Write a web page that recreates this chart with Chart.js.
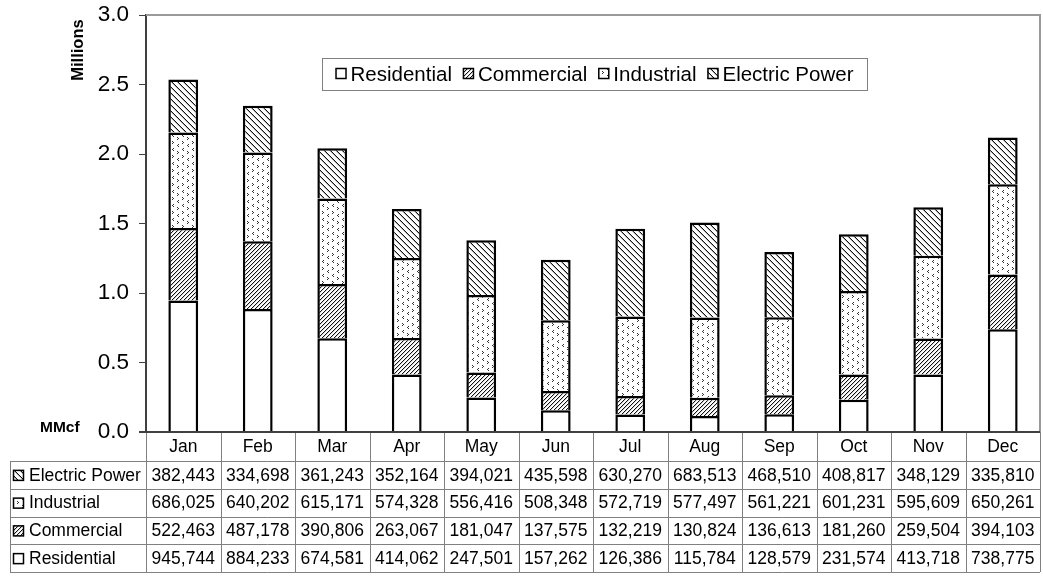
<!DOCTYPE html>
<html>
<head>
<meta charset="utf-8">
<title>Monthly Natural Gas Consumption by Sector</title>
<script src="https://cdn.jsdelivr.net/npm/chart.js@4.4.1/dist/chart.umd.min.js"></script>
<style>
  html, body { margin: 0; padding: 0; background: #fff; }
  canvas { display: block; }
</style>
</head>
<body>
<canvas id="c" width="1043" height="576"></canvas>
<script>
// Monthly consumption by sector, MMcf
const months = ['Jan', 'Feb', 'Mar', 'Apr', 'May', 'Jun', 'Jul', 'Aug', 'Sep', 'Oct', 'Nov', 'Dec'];
const residential = [945744, 884233, 674581, 414062, 247501, 157262, 126386, 115784, 128579, 231574, 413718, 738775];
const commercial = [522463, 487178, 390806, 263067, 181047, 137575, 132219, 130824, 136613, 181260, 259504, 394103];
const industrial = [686025, 640202, 615171, 574328, 556416, 508348, 572719, 577497, 561221, 601231, 595609, 650261];
const electricPower = [382443, 334698, 361243, 352164, 394021, 435598, 630270, 683513, 468510, 408817, 348129, 335810];
const seriesNames = ['Residential', 'Commercial', 'Industrial', 'Electric Power'];
const yTicks = ['0.0', '0.5', '1.0', '1.5', '2.0', '2.5', '3.0'];

const FONT = '"Liberation Sans", Arial, Helvetica, sans-serif';

// ---- fill patterns (black & white hatching) ----
function tile(w, h, draw) {
  const c = document.createElement('canvas');
  c.width = w; c.height = h;
  const g = c.getContext('2d');
  g.fillStyle = '#fff';
  g.fillRect(0, 0, w, h);
  draw(g);
  return c;
}
const ctxMain = document.getElementById('c').getContext('2d');

// dense forward diagonal
const commercialTile = tile(4, 4, g => {
  for (let x = 0; x < 4; x++) {
    g.fillStyle = '#111'; g.fillRect(x, 3 - x, 1, 1);
    g.fillStyle = '#d0d0d0'; g.fillRect(x, (4 - x) % 4, 1, 1);
  }
});
// wider backward diagonal
const electricTile = tile(6, 6, g => {
  for (let x = 0; x < 6; x++) {
    g.fillStyle = '#111'; g.fillRect(x, x, 1, 1);
    g.fillStyle = '#b0b0b0'; g.fillRect(x, (x + 1) % 6, 1, 1);
  }
});
// scattered small chevrons
const industrialTile = tile(10, 14, g => {
  g.fillStyle = '#333';
  const gt = (x, y) => { g.fillRect(x, y, 1, 1); g.fillRect(x + 1, y + 1, 1, 1); g.fillRect(x, y + 2, 1, 1); };
  const lt = (x, y) => { g.fillRect(x + 1, y, 1, 1); g.fillRect(x, y + 1, 1, 1); g.fillRect(x + 1, y + 2, 1, 1); };
  gt(2, 1); lt(2, 8);
  lt(7, 4); gt(7, 11);
});

const fills = {
  'Residential': '#ffffff',
  'Commercial': ctxMain.createPattern(commercialTile, 'repeat'),
  'Industrial': ctxMain.createPattern(industrialTile, 'repeat'),
  'Electric Power': ctxMain.createPattern(electricTile, 'repeat')
};
const seriesValues = {
  'Residential': residential,
  'Commercial': commercial,
  'Industrial': industrial,
  'Electric Power': electricPower
};

function swatch(ctx, name, x, y, s) {
  ctx.save();
  ctx.fillStyle = fills[name];
  ctx.fillRect(x, y, s, s);
  ctx.strokeStyle = '#000';
  ctx.lineWidth = 1.5;
  ctx.strokeRect(x + 0.5, y + 0.5, s - 1, s - 1);
  ctx.restore();
}

// ---- frame, legend, axis captions and data table ----
const decorations = {
  id: 'decorations',
  afterDraw(chart) {
    const ctx = chart.ctx;
    const a = chart.chartArea;
    const xs = chart.scales.x;
    const colW = (a.right - a.left) / months.length;

    ctx.save();
    // top and right frame
    ctx.strokeStyle = '#9a9a9a';
    ctx.lineWidth = 2;
    ctx.beginPath();
    ctx.moveTo(a.left, a.top);
    ctx.lineTo(a.right, a.top);
    ctx.lineTo(a.right, a.bottom);
    ctx.stroke();

    // legend box
    ctx.font = '20.5px ' + FONT;
    ctx.textBaseline = 'middle';
    ctx.textAlign = 'left';
    const box = { x: 322, y: 58, w: 545, h: 32 };
    const sw = 11, gapIcon = 4, gapItem = 11;
    const widths = seriesNames.map(n => sw + gapIcon + ctx.measureText(n).width);
    const total = widths.reduce((s, v) => s + v, 0) + gapItem * (seriesNames.length - 1);
    let lx = box.x + (box.w - total) / 2;
    ctx.fillStyle = '#fff';
    ctx.fillRect(box.x, box.y, box.w, box.h);
    ctx.strokeStyle = '#808080';
    ctx.lineWidth = 1;
    ctx.strokeRect(box.x + 0.5, box.y + 0.5, box.w, box.h);
    const ly = box.y + box.h / 2;
    seriesNames.forEach((n, i) => {
      swatch(ctx, n, lx, ly - 6, sw);
      ctx.fillStyle = '#000';
      ctx.fillText(n, lx + sw + gapIcon, ly + 1);
      lx += widths[i] + gapItem;
    });

    // axis captions
    ctx.fillStyle = '#000';
    ctx.font = 'bold 16.5px ' + FONT;
    ctx.save();
    ctx.translate(78, 50);
    ctx.rotate(-Math.PI / 2);
    ctx.textAlign = 'center';
    ctx.fillText('Millions', 0, 0);
    ctx.restore();
    ctx.font = 'bold 15.5px ' + FONT;
    ctx.textAlign = 'left';
    ctx.fillText('MMcf', 40, 428);

    // data table
    const tableLeft = 10;
    const headTop = a.bottom;
    const headBottom = headTop + 29;
    const rowH = 27.75;
    const rows = ['Electric Power', 'Industrial', 'Commercial', 'Residential'];
    const tableBottom = headBottom + rowH * rows.length;

    ctx.strokeStyle = '#808080';
    ctx.lineWidth = 1;
    ctx.beginPath();
    for (let i = 0; i <= months.length; i++) {
      const x = Math.round(a.left + i * colW) + 0.5;
      ctx.moveTo(x, headTop);
      ctx.lineTo(x, tableBottom);
    }
    ctx.moveTo(tableLeft + 0.5, headBottom);
    ctx.lineTo(tableLeft + 0.5, tableBottom);
    for (let r = 0; r <= rows.length; r++) {
      const y = Math.round(headBottom + r * rowH) + 0.5;
      ctx.moveTo(tableLeft, y);
      ctx.lineTo(a.right, y);
    }
    ctx.stroke();

    ctx.font = '17.5px ' + FONT;
    ctx.fillStyle = '#000';
    ctx.textAlign = 'center';
    months.forEach((m, i) => {
      ctx.fillText(m, xs.getPixelForValue(i), (headTop + headBottom) / 2 + 1);
    });
    rows.forEach((n, r) => {
      const cy = headBottom + r * rowH + rowH / 2 + 1;
      ctx.textAlign = 'left';
      swatch(ctx, n, tableLeft + 3, cy - 6, 11);
      ctx.fillStyle = '#000';
      ctx.fillText(n, tableLeft + 19, cy);
      ctx.textAlign = 'center';
      seriesValues[n].forEach((v, i) => {
        ctx.fillText(v.toLocaleString('en-US'), xs.getPixelForValue(i), cy);
      });
    });

    // zero line
    ctx.strokeStyle = '#404040';
    ctx.lineWidth = 2;
    ctx.beginPath();
    ctx.moveTo(a.left - 7, a.bottom);
    ctx.lineTo(a.right, a.bottom);
    ctx.stroke();
    ctx.restore();
  }
};

const toMillions = arr => arr.map(v => v / 1e6);

new Chart(document.getElementById('c'), {
  type: 'bar',
  data: {
    labels: months,
    datasets: seriesNames.map(n => ({
      label: n,
      data: toMillions(seriesValues[n]),
      backgroundColor: fills[n],
      borderColor: '#000',
      borderWidth: 2.5,
      borderSkipped: 'start',
      barPercentage: 0.4,
      categoryPercentage: 1.0
    }))
  },
  options: {
    responsive: false,
    animation: false,
    devicePixelRatio: 1,
    layout: { padding: { left: 0, top: 15, right: 3, bottom: 144 } },
    plugins: {
      legend: { display: false },
      tooltip: { enabled: false },
      title: { display: false }
    },
    scales: {
      x: {
        stacked: true,
        display: false
      },
      y: {
        stacked: true,
        min: 0,
        max: 3,
        afterFit: s => { s.width = 146; s.paddingTop = 0; s.paddingBottom = 0; },
        afterBuildTicks: s => {
          s.ticks = yTicks.map(t => ({ value: parseFloat(t), label: t }));
        },
        ticks: {
          color: '#000',
          font: { family: FONT, size: 22.5 },
          padding: 10,
          callback: (v) => yTicks.find(t => parseFloat(t) === v)
        },
        grid: {
          drawOnChartArea: false,
          drawTicks: true,
          tickLength: 7,
          color: '#404040',
          lineWidth: 1
        },
        border: { display: true, color: '#404040', width: 2 }
      }
    }
  },
  plugins: [decorations]
});
</script>
</body>
</html>
